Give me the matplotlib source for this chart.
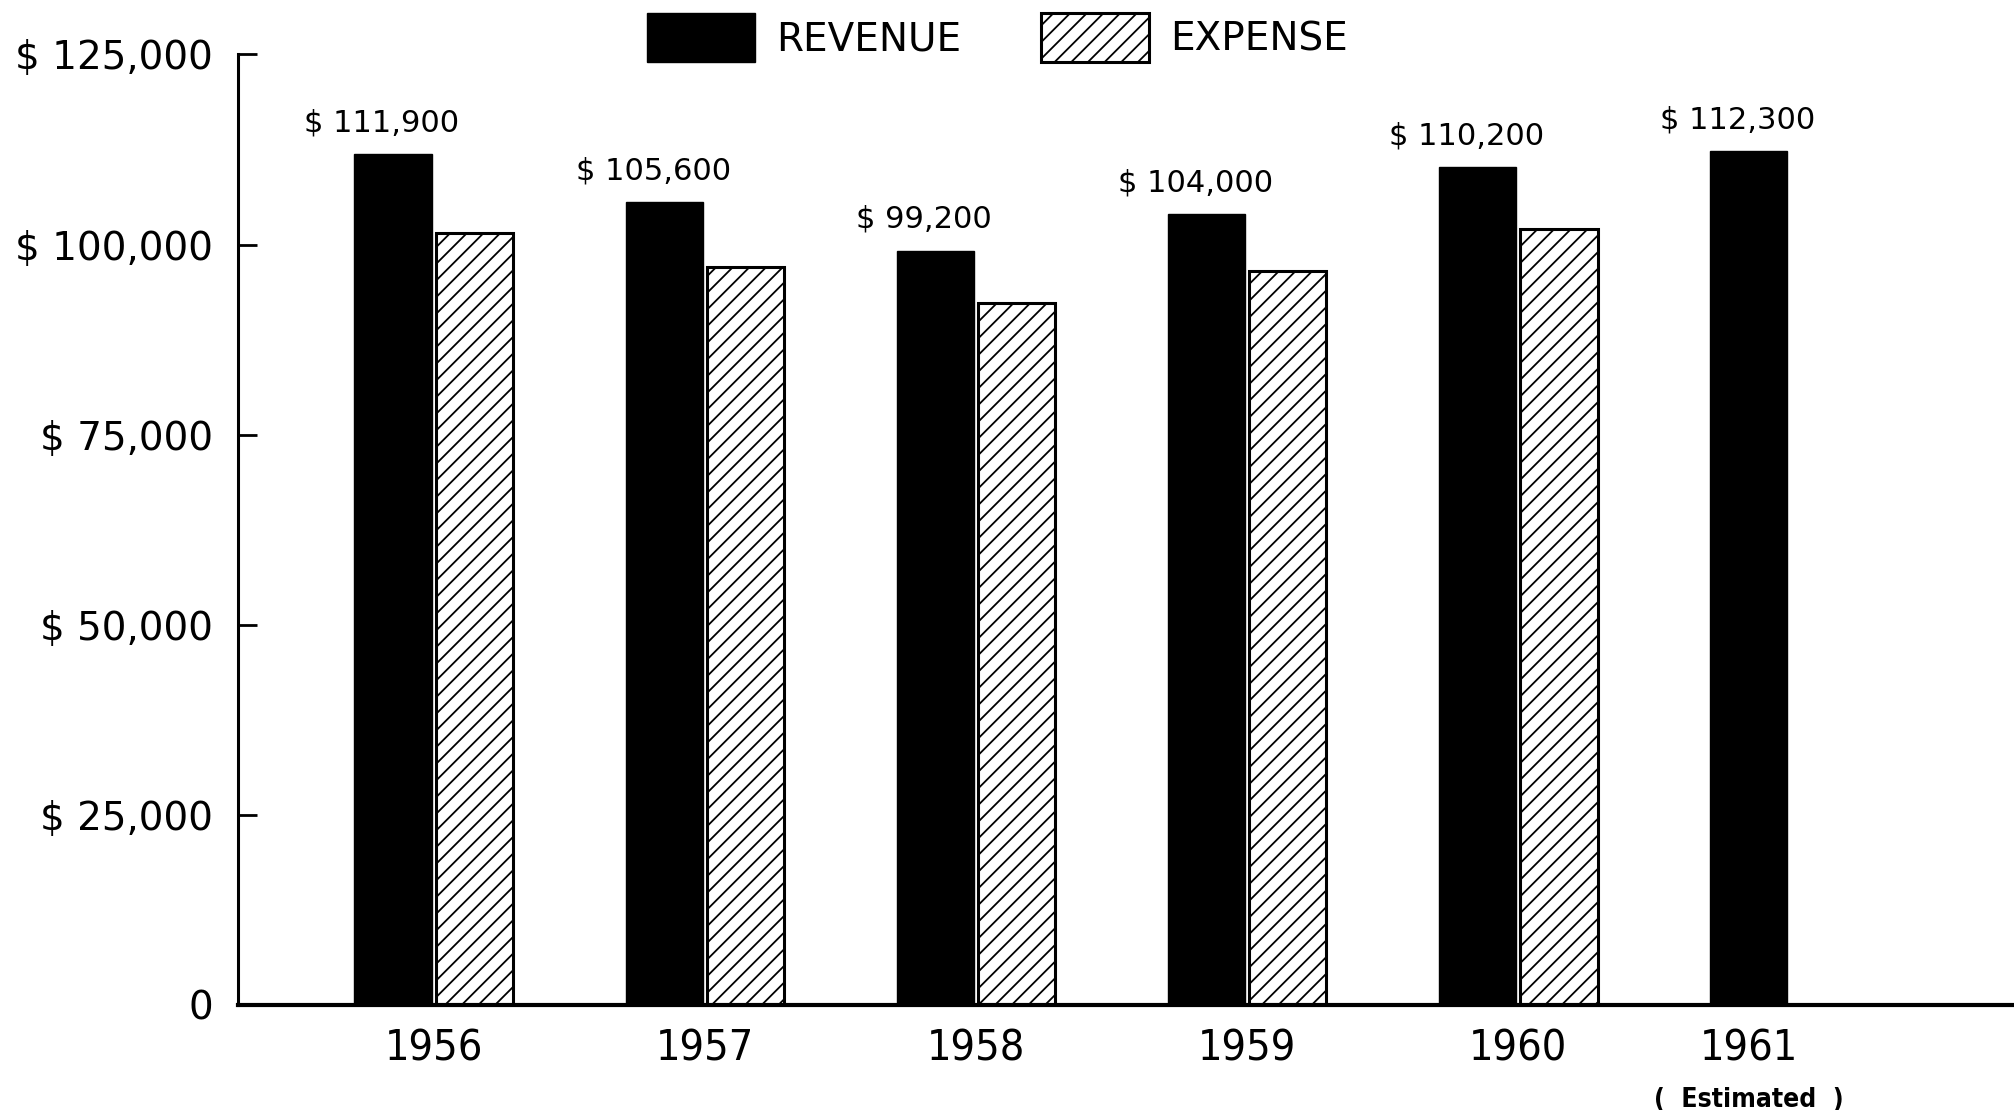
import numpy as np
import matplotlib.pyplot as plt
from matplotlib.patches import Patch

# Data
years = ["1956", "1957", "1958", "1959", "1960", "1961"]
revenue = [111900, 105600, 99200, 104000, 110200, 112300]
expense = [101500, 97000, 92300, 96500, 102000]  # no expense for 1961
revenue_labels = ["$ 111,900", "$ 105,600", "$ 99,200", "$ 104,000", "$ 110,200", "$ 112,300"]
y_ticks = [0, 25000, 50000, 75000, 100000, 125000]
y_tick_labels = ["0", "$ 25,000", "$ 50,000", "$ 75,000", "$ 100,000", "$ 125,000"]

plt.rcParams['hatch.linewidth'] = 1.3
plt.rcParams['font.family'] = ['DejaVu Sans']

fig = plt.figure(figsize=(20.15, 11.1), dpi=100)
ax = fig.add_axes([0.118, 0.0946, 0.882, 0.8564])

x = np.arange(len(years))
w = 0.285
off = 0.15

ax.bar(x - off, revenue, width=w, color='black', edgecolor='black', linewidth=1)
ax.bar(x[:len(expense)] + off, expense, width=w, color='white', edgecolor='black',
       linewidth=2.2, hatch='//')

for xi, v, lab in zip(x - off, revenue, revenue_labels):
    ax.annotate(lab, (xi, v), xytext=(-8, 12), textcoords='offset points',
                ha='center', va='bottom', fontsize=22)

ax.set_xlim(-0.723, 5.832)
ax.set_ylim(0, 125000)

ax.spines['top'].set_visible(False)
ax.spines['right'].set_visible(False)
ax.spines['left'].set_linewidth(2.2)
ax.spines['bottom'].set_linewidth(3)

ax.set_yticks(y_ticks)
ax.set_yticklabels(y_tick_labels, fontsize=28)
ax.tick_params(axis='y', direction='in', length=14, width=2, pad=18)

tick_pos = list(x[:5]) + [x[5] - off]
ax.set_xticks(tick_pos)
ax.set_xticklabels(years, fontsize=31, fontstretch='condensed')
ax.tick_params(axis='x', length=0, pad=16)

ax.annotate("(  Estimated  )", (x[5] - off, 0), xytext=(0, -59), textcoords='offset points',
            ha='center', va='top', fontsize=19, fontweight='bold', fontstretch='condensed',
            annotation_clip=False)

handles = [Patch(facecolor='black', edgecolor='black', label='REVENUE'),
           Patch(facecolor='white', edgecolor='black', linewidth=2.2, hatch='//', label='EXPENSE')]
fig.legend(handles=handles, loc='upper center', bbox_to_anchor=(0.495, 1.006), ncol=2,
           frameon=False, fontsize=28, handlelength=2.78, handleheight=1.57,
           handletextpad=0.55, columnspacing=2.05, borderpad=0)

fig.savefig("out.png", dpi=100)
